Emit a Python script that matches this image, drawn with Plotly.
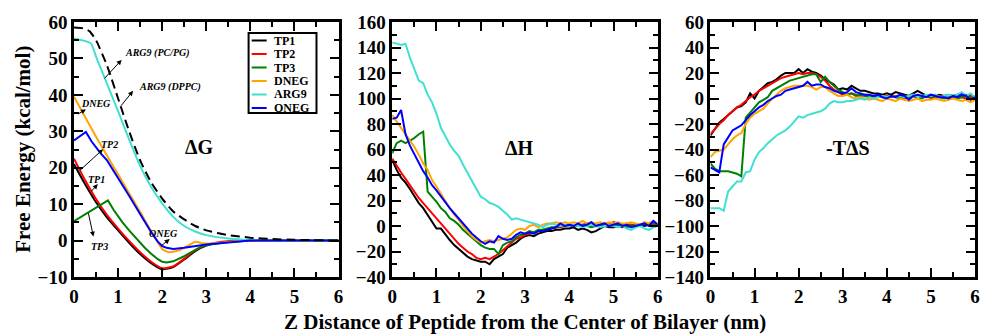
import plotly.graph_objects as go

# ---------------- data ----------------
series_names = ["TP1", "TP2", "TP3", "DNEG", "ARG9", "ONEG"]
series_colors = ["#000000", "#ff0000", "#008000", "#ffa500", "#40e0d0", "#0000ff"]

# Panel 1: Delta G (kcal/mol)
g_x_common = [0, 0.25, 0.5, 0.75, 1.0, 1.25, 1.5, 1.75, 2.0, 2.25, 2.5, 2.75, 3.0, 3.25, 3.5, 3.75, 4.0, 5.0, 6.0]
g_tp1 = [21, 15.5, 10.5, 6.3, 2.8, -0.6, -3.7, -6.2, -7.9, -7.3, -5.2, -2.9, -1.4, -0.7, -0.3, -0.1, 0, 0, 0]
g_tp2 = [22.5, 16.6, 11.4, 7.0, 3.3, -0.1, -3.2, -5.8, -7.6, -7.1, -5.0, -2.6, -1.2, -0.5, -0.2, -0.1, 0, 0, 0]
g_tp3_x = [0, 0.77, 0.9, 1.0, 1.1, 1.25, 1.4, 1.5, 1.6, 1.75, 1.9, 2.0, 2.1, 2.25, 2.4, 2.5, 2.6, 2.75, 2.9, 3.0, 3.25, 3.5, 4.0, 5.0, 6.0]
g_tp3 = [5.3, 11.0, 8.4, 6.6, 5.0, 2.8, 0.7, -0.6, -1.9, -3.6, -5.1, -5.8, -6.0, -5.7, -4.9, -4.3, -3.6, -2.5, -1.6, -1.2, -0.7, -0.4, 0, 0, 0]
g_dneg_x = [0, 0.25, 0.5, 0.75, 1.0, 1.25, 1.5, 1.75, 2.0, 2.15, 2.4, 2.6, 2.75, 2.9, 3.1, 3.4, 4.0, 5.0, 6.0]
g_dneg = [39.5, 34.0, 28.5, 23.3, 18.2, 13.0, 7.9, 2.6, -2.3, -3.2, -2.6, -1.3, -0.3, -0.7, -0.8, -0.5, 0, 0, 0]
g_arg9_x = [0, 0.38, 0.5, 0.75, 1.0, 1.25, 1.5, 1.75, 2.0, 2.25, 2.5, 2.75, 3.0, 3.5, 4.0, 5.0, 6.0]
g_arg9 = [55.5, 54.2, 50.5, 43.0, 35.5, 27.8, 20.5, 14.7, 10.2, 6.5, 4.0, 2.5, 1.5, 0.6, 0.2, 0, 0]
g_oneg_x = [0, 0.27, 0.4, 0.5, 0.6, 0.75, 0.9, 1.0, 1.1, 1.25, 1.4, 1.5, 1.6, 1.75, 1.9, 2.0, 2.1, 2.25, 2.5, 2.75, 3.0, 3.25, 3.5, 4.0, 5.0, 6.0]
g_oneg = [27.5, 29.8, 27.2, 25.5, 24.0, 22.0, 19.2, 17.3, 15.3, 12.3, 9.3, 7.2, 5.2, 2.3, -0.3, -1.5, -2.0, -2.3, -2.0, -1.5, -1.1, -0.8, -0.5, 0, 0, 0]
g_dppc_x = [0, 0.2, 0.35, 0.5, 0.75, 1.0, 1.25, 1.5, 1.75, 2.0, 2.25, 2.5, 2.75, 3.0, 3.5, 4.0, 4.5, 5.0, 6.0]
g_dppc = [58.5, 58.3, 57.5, 55.0, 48.0, 39.0, 30.0, 22.0, 16.0, 11.5, 8.0, 5.8, 4.0, 2.8, 1.5, 0.8, 0.4, 0.2, 0]

# Panels 2 and 3: z grid (nm)
z_grid = [round(0.1 * i, 1) for i in range(61)]

h_tp1 = [52, 44, 38, 34, 29, 23, 18, 14, 9, 3, -2, -2, -7, -11, -15, -18, -21, -24, -26, -27,
         -28, -28, -30, -26, -24, -22, -17, -15, -13, -10, -8, -7, -8, -6, -5, -4, -4, -3, -3, -2,
         -2, -1, -3, -2, -3, -5, -4, -2, 0, -1, -1, 0, -1, 0, 1, 0, 1, 0, 1, 2, 1]
h_tp2 = [53, 47, 42, 37, 32, 26, 22, 18, 14, 10, 6, 2, -2, -6, -10, -14, -17, -20, -22, -25,
         -26, -25, -26, -24, -22, -19, -16, -13, -10, -9, -7, -6, -5, -4, -3, -3, -2, -1, -1, 0,
         1, 0, 1, 1, 2, 1, 0, 1, 2, 1, 3, 2, 1, 2, 1, 0, 1, 2, 1, 2, 0]
h_tp3 = [57, 65, 67, 65, 67, 69, 72, 74, 27, 23, 19, 14, 11, 6, 4, 1, -3, -6, -9, -12,
         -15, -17, -18, -18, -22, -15, -13, -12, -9, -7, -6, -4, -5, -3, -3, -2, -1, -1, 0, 1,
         0, 1, 0, 1, 0, -1, 0, 1, 0, 1, 0, 1, 0, -1, 0, 1, 0, 2, 1, 3, 0]
h_dneg = [87, 82, 78, 73, 68, 62, 56, 49, 44, 36, 31, 25, 20, 14, 9, 5, 0, -4, -8, -11,
          -13, -12, -11, -12, -11, -10, -9, -6, -3, -2, -3, 0, 1, -1, 1, 2, 2, 3, 2, 3,
          2, 3, 2, 4, 2, 3, 2, 3, 2, 3, 2, 3, 2, 2, 3, 2, 1, 3, 2, 4, 1]
h_arg9 = [144, 143, 142, 143, 132, 123, 114, 112, 103, 97, 88, 77, 70, 64, 59, 55, 48, 42, 35, 29,
          23, 21, 18, 17, 15, 12, 9, 5, 6, 5, 4, 3, 2, 1, -1, 1, 2, 1, 0, 1,
          0, 1, 0, -1, 0, 1, 0, -1, 0, 1, 0, -1, 0, -2, -3, -1, 0, -2, -3, -1, 0]
h_oneg = [84, 85, 91, 72, 63, 56, 49, 43, 38, 32, 28, 23, 19, 14, 10, 6, 2, -2, -6, -9,
          -12, -14, -12, -13, -8, -10, -11, -10, -7, -5, -6, -5, -6, -4, -4, -3, -2, -1, 2, 0,
          1, 0, 2, 0, 1, 3, 0, 1, 2, 0, 1, 2, 0, 1, -1, 0, 1, 2, 0, 4, 1]

s_tp1 = [-29, -24, -19, -16, -13, -10, -7, -6, -3, 4, 0, 6, 9, 12, 13, 15, 18, 20, 20, 20,
         23, 20, 23, 21, 20, 18, 15, 13, 11, 7, 8, 7, 10, 8, 6, 6, 5, 4, 4, 3,
         4, 3, 5, 4, 3, 2, 4, 6, 4, 2, 3, 2, 3, 2, 3, 2, 3, 4, 2, 3, 1]
s_tp2 = [-28, -24, -20, -17, -13, -10, -7, -5, -2, 1, 3, 6, 8, 10, 12, 14, 16, 17, 18, 19,
         20, 19, 20, 20, 19, 17, 14, 10, 7, 5, 3, 3, 4, 3, 2, 3, 2, 1, 2, 1,
         2, 1, 2, 1, 0, 1, 2, 0, 1, 2, 0, 1, 2, 1, 0, 1, 2, 1, 0, 2, 0]
s_tp3 = [-51, -55, -57, -57, -57, -58, -59, -61, -15, -11, -7, -3, -1, 1, 6, 8, 10, 12, 14, 15,
         16, 17, 18, 19, 19, 13, 17, 13, 10, 7, 5, 3, 4, 2, 3, 2, 1, 2, 1, 2,
         1, 2, 1, 0, 2, 1, 2, 1, 0, 2, 1, 2, 1, 0, 1, 2, 0, 1, 3, 0, 1]
s_dneg = [-46, -42, -41, -40, -36, -32, -29, -27, -20, -15, -12, -10, -8, -4, 0, 3, 6, 8, 9, 10,
          10, 10, 10, 9, 7, 9, 9, 6, 4, 2, 2, 3, 1, 0, 1, 0, -1, 0, -1, -2,
          0, -1, -2, 0, -1, -2, -1, 0, -2, -1, -1, 0, -1, -2, -1, 0, -1, -2, -1, -3, -1]
s_arg9 = [-86, -86, -86, -88, -73, -69, -65, -65, -58, -57, -48, -42, -39, -35, -32, -29, -27, -25, -22, -18,
          -14, -15, -13, -12, -11, -10, -8, -4, -2, -3, -3, -2, -2, -1, 0, -1, 1, 0, 1, 2,
          1, 2, 1, 2, 1, 2, 3, 1, 2, 3, 2, 3, 1, 2, 3, 2, 3, 5, 2, 4, 1]
s_oneg = [-54, -56, -58, -36, -30, -25, -23, -21, -17, -13, -10, -7, -5, -2, 0, 2, 3, 6, 7, 8,
          9, 10, 13, 10, 11, 11, 9, 8, 6, 5, 4, 5, 8, 5, 4, 3, 3, 2, 3, 1,
          0, 2, 1, 3, 2, -1, 2, 3, 2, 1, 3, 2, 1, 1, 0, 2, 1, 3, 2, -1, 1]

x_ticks = [0, 1, 2, 3, 4, 5, 6]
panel_labels = ["\u0394G", "\u0394H", "-T\u0394S"]
y_title = "Free Energy (kcal/mol)"
x_title = "Z Distance of Peptide from the Center of Bilayer (nm)"

# ---------------- figure ----------------
SERIF = "Liberation Serif"
fig = go.Figure()

g_xs = [g_x_common, g_x_common, g_tp3_x, g_dneg_x, g_arg9_x, g_oneg_x]
g_ys = [g_tp1, g_tp2, g_tp3, g_dneg, g_arg9, g_oneg]
g_shapes = ["spline", "spline", "linear", "spline", "spline", "linear"]
for name, col, xs, ys, shp in zip(series_names, series_colors, g_xs, g_ys, g_shapes):
    fig.add_trace(go.Scatter(x=xs, y=ys, mode="lines", name=name, showlegend=False,
                             line=dict(color=col, width=2, shape=shp, smoothing=0.5),
                             xaxis="x", yaxis="y"))
fig.add_trace(go.Scatter(x=g_dppc_x, y=g_dppc, mode="lines", name="ARG9 (DPPC)", showlegend=False,
                         line=dict(color="black", width=2, dash="9px,5px", shape="spline", smoothing=0.5),
                         xaxis="x", yaxis="y"))

h_ys = [h_tp1, h_tp2, h_tp3, h_dneg, h_arg9, h_oneg]
for name, col, ys in zip(series_names, series_colors, h_ys):
    fig.add_trace(go.Scatter(x=z_grid, y=ys, mode="lines", name=name, showlegend=False,
                             line=dict(color=col, width=2), xaxis="x2", yaxis="y2"))
s_ys = [s_tp1, s_tp2, s_tp3, s_dneg, s_arg9, s_oneg]
for name, col, ys in zip(series_names, series_colors, s_ys):
    fig.add_trace(go.Scatter(x=z_grid, y=ys, mode="lines", name=name, showlegend=False,
                             line=dict(color=col, width=2), xaxis="x3", yaxis="y3"))

tickfont = dict(family=SERIF, size=19, color="black", weight="bold")


def xax(domain, anchor):
    return dict(domain=domain, anchor=anchor, range=[0, 6], tickvals=x_ticks,
                showline=True, linewidth=2.5, linecolor="black", mirror="allticks",
                ticks="inside", ticklen=9, tickwidth=2, tickcolor="black",
                minor=dict(ticks="inside", ticklen=5, tickwidth=2, tickcolor="black", dtick=0.5),
                showgrid=False, zeroline=False, tickfont=tickfont)


def yax(domain_anchor, rng, dtick, mdtick):
    return dict(domain=[0, 1], anchor=domain_anchor, range=rng, dtick=dtick, tick0=0,
                showline=True, linewidth=2.5, linecolor="black", mirror="allticks",
                ticks="inside", ticklen=9, tickwidth=2, tickcolor="black",
                minor=dict(ticks="inside", ticklen=5, tickwidth=2, tickcolor="black", dtick=mdtick),
                showgrid=False, zeroline=False, tickfont=tickfont)


fig.update_layout(
    width=984, height=334,
    margin=dict(l=74, r=4, t=22, b=57),
    paper_bgcolor="white", plot_bgcolor="white",
    showlegend=False,
    xaxis=xax([0, 0.2936], "y"),
    yaxis=yax("x", [-10, 60], 10, 5),
    xaxis2=xax([0.3532, 0.6479], "y2"),
    yaxis2=yax("x2", [-40, 160], 20, 10),
    xaxis3=xax([0.7064, 1.0], "y3"),
    yaxis3=yax("x3", [-140, 60], 20, 10),
)

ann = []
# panel labels
for lab, xr, yr, xv, yv in [(panel_labels[0], "x", "y", 2.85, 25.7),
                            (panel_labels[1], "x2", "y2", 2.88, 61),
                            (panel_labels[2], "x3", "y3", 3.13, -39)]:
    ann.append(dict(text=lab, x=xv, y=yv, xref=xr, yref=yr, showarrow=False,
                    font=dict(family=SERIF, size=20, color="black", weight="bold")))

# axis titles
ann.append(dict(text=y_title, x=-0.0574, y=0.5, xref="paper", yref="paper", textangle=-90,
                showarrow=False, xanchor="center", yanchor="middle",
                font=dict(family=SERIF, size=21, color="black", weight="bold")))
ann.append(dict(text=x_title, x=0.5, y=-0.176, xref="paper", yref="paper",
                showarrow=False, xanchor="center", yanchor="middle",
                font=dict(family=SERIF, size=21, color="black", weight="bold")))

# curve labels with arrows (panel 1)
lab_font = dict(family=SERIF, size=10, color="black", weight="bold", style="italic")
curve_labels = [("ARG9 (PC/PG)", 1.9, 51.5), ("ARG9 (DPPC)", 2.17, 42.1), ("DNEG", 0.5, 37.7),
                ("TP2", 0.81, 26.4), ("TP1", 0.5, 16.9), ("TP3", 0.57, -1.5), ("ONEG", 2.04, 2.0)]
for t, xv, yv in curve_labels:
    ann.append(dict(text=t, x=xv, y=yv, xref="x", yref="y", showarrow=False, font=lab_font))
arrows = [((1.08, 49.6), (0.66, 44.1)), ((1.34, 41.1), (1.04, 36.6)), ((0.27, 36.0), (0.06, 34.5)),
          ((0.66, 25.1), (0.10, 18.9)), ((0.54, 15.5), (0.36, 13.1)), ((0.44, 1.1), (0.32, 7.9)),
          ((2.17, 0.4), (1.95, -1.7))]
for (hx, hy), (tx, ty) in arrows:
    ann.append(dict(text="", x=hx, y=hy, ax=tx, ay=ty, xref="x", yref="y", axref="x", ayref="y",
                    showarrow=True, arrowhead=2, arrowsize=1, arrowwidth=1, arrowcolor="black"))

# custom legend box inside panel 1
shapes = [dict(type="rect", xref="x", yref="y", x0=3.96, x1=5.5, y0=35.0, y1=57.0,
               line=dict(color="black", width=2), fillcolor="white", layer="above")]
row_y = [54.6, 50.9, 47.2, 43.5, 39.8, 36.1]
row_y = [v + 0.3 for v in row_y]
for name, col, ry in zip(series_names, series_colors, row_y):
    shapes.append(dict(type="line", xref="x", yref="y", x0=4.03, x1=4.37, y0=ry, y1=ry,
                       line=dict(color=col, width=2), layer="above"))
    ann.append(dict(text=name, x=4.48, y=ry, xref="x", yref="y", xanchor="left", yanchor="middle",
                    showarrow=False, font=dict(family=SERIF, size=12, color="black", weight="bold")))

fig.update_layout(annotations=ann, shapes=shapes)
fig.write_html("out.html")
